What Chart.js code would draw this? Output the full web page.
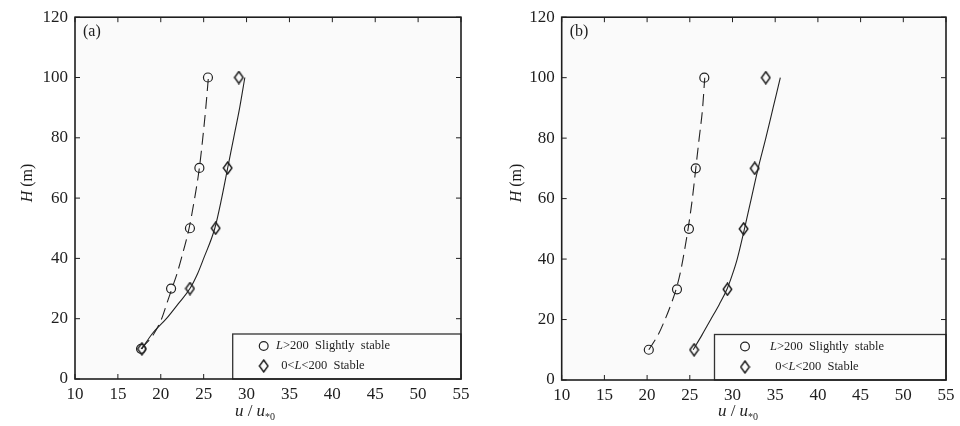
<!DOCTYPE html>
<html><head><meta charset="utf-8">
<script src="https://cdn.jsdelivr.net/npm/chart.js@4"></script>
<style>
html,body{margin:0;padding:0;background:#fff;width:960px;height:426px;overflow:hidden}
canvas{position:absolute;top:0}
</style></head>
<body>
<canvas id="ca" width="480" height="426" style="left:0"></canvas>
<canvas id="cb" width="480" height="426" style="left:480px"></canvas>
<script>
// ---- data ----
const heights = [10, 30, 50, 70, 100];
const aSlightU = [17.7, 21.2, 23.4, 24.5, 25.5];
const aStableU = [17.8, 23.4, 26.4, 27.8, 29.1];
const bSlightU = [20.2, 23.5, 24.9, 25.7, 26.7];
const bStableU = [25.5, 29.4, 31.3, 32.6, 33.9];

const fitHeights = [10, 15, 20, 25, 30, 35, 40, 50, 60, 70, 80, 90, 100];
const aSlightFit = [17.7, 19.2, 20.1, 20.7, 21.3, 21.9, 22.4, 23.3, 23.95, 24.5, 24.9, 25.25, 25.55];
const aStableFit = [17.8, 19.0, 20.65, 22.05, 23.4, 24.3, 25.0, 26.3, 27.1, 27.8, 28.5, 29.2, 29.8];
const bSlightFit = [20.2, 21.3, 22.1, 22.8, 23.4, 23.85, 24.2, 24.8, 25.3, 25.7, 26.1, 26.5, 26.75];
const bStableFit = [25.4, 26.45, 27.45, 28.45, 29.35, 30.0, 30.55, 31.4, 32.2, 33.0, 33.9, 34.75, 35.6];

const xTicks = [10, 15, 20, 25, 30, 35, 40, 45, 50, 55];
const yTicks = [0, 20, 40, 60, 80, 100, 120];
const panelLabels = ['(a)', '(b)'];
const legendLabels = [
  [{t:'L', i:true}, {t:'>200  Slightly  stable'}],
  [{t:' 0<'}, {t:'L', i:true}, {t:'<200  Stable'}]
];
const yTitle = [{t:'H', i:true}, {t:' (m)'}];

// ---- styling helpers ----
const SERIF = '"Liberation Serif","DejaVu Serif",serif';
const INK = '#1e1e1e';

function makeDiamond(){
  const c = document.createElement('canvas');
  c.width = 11; c.height = 14;
  const g = c.getContext('2d');
  g.strokeStyle = '#111'; g.lineWidth = 1.35;
  g.beginPath();
  g.moveTo(5.5, 1); g.lineTo(9.8, 7); g.lineTo(5.5, 13); g.lineTo(1.2, 7); g.closePath();
  g.stroke();
  return c;
}
const diamond = makeDiamond();

function pts(xs, ys){ return xs.map((v, k) => ({x: v, y: ys[k]})); }

function drawRich(ctx, parts, x, y, size){
  let cx = x;
  parts.forEach(p => {
    ctx.font = (p.i ? 'italic ' : '') + size + 'px ' + SERIF;
    ctx.fillText(p.t, cx, y);
    cx += ctx.measureText(p.t).width;
  });
  return cx - x;
}
function richWidth(ctx, parts, size){
  let w = 0;
  parts.forEach(p => { ctx.font = (p.i ? 'italic ' : '') + size + 'px ' + SERIF; w += ctx.measureText(p.t).width; });
  return w;
}

const framePlugin = {
  id: 'frame',
  beforeDraw(chart, args, o){
    const {ctx, chartArea: a} = chart;
    ctx.save();
    ctx.fillStyle = '#fafafa';
    ctx.fillRect(a.left, a.top, a.right - a.left, a.bottom - a.top);
    ctx.restore();
  },
  afterDraw(chart, args, o){
    const {ctx, chartArea: a, scales: {x, y}} = chart;
    ctx.save();
    ctx.strokeStyle = INK; ctx.lineWidth = 1;
    const ln = (x1, y1, x2, y2) => { ctx.beginPath(); ctx.moveTo(x1, y1); ctx.lineTo(x2, y2); ctx.stroke(); };
    xTicks.forEach(v => { const p = x.getPixelForValue(v); ln(p, a.bottom, p, a.bottom - 5); ln(p, a.top, p, a.top + 5); });
    yTicks.forEach(v => { const p = y.getPixelForValue(v); ln(a.left, p, a.left + 5, p); ln(a.right, p, a.right - 5, p); });

    // legend box
    ctx.fillStyle = '#fcfcfc';
    ctx.fillRect(o.legLeft, o.legTop, a.right - o.legLeft, a.bottom - o.legTop);
    ctx.strokeStyle = '#333'; ctx.lineWidth = 1.3;
    ctx.strokeRect(o.legLeft, o.legTop, a.right - o.legLeft, a.bottom - o.legTop);
    // legend markers
    ctx.strokeStyle = '#222'; ctx.lineWidth = 1.2;
    ctx.beginPath(); ctx.arc(o.legMarkX, o.legRow1, 4.4, 0, Math.PI * 2); ctx.stroke();
    ctx.drawImage(diamond, o.legMarkX - diamond.width / 2, o.legRow2 - diamond.height / 2);
    ctx.fillStyle = INK; ctx.textBaseline = 'middle'; ctx.textAlign = 'left';
    drawRich(ctx, legendLabels[0], o.legText1, o.legRow1, 12.5);
    drawRich(ctx, legendLabels[1], o.legText2, o.legRow2, 12.5);

    // frame
    ctx.strokeStyle = INK; ctx.lineWidth = 1.6;
    ctx.strokeRect(a.left, a.top, a.right - a.left, a.bottom - a.top);

    // panel label
    ctx.fillStyle = INK; ctx.textBaseline = 'middle'; ctx.textAlign = 'left';
    ctx.font = '16px ' + SERIF;
    ctx.fillText(o.label, a.left + 8, a.top + 15);

    // y title
    ctx.save();
    ctx.translate(o.yTitleX, o.yTitleY);
    ctx.rotate(-Math.PI / 2);
    const yw = richWidth(ctx, yTitle, 16);
    drawRich(ctx, yTitle, -yw / 2, 0, 16);
    ctx.restore();

    // x title: u / u_{*0}
    const s = 17;
    ctx.font = 'italic ' + s + 'px ' + SERIF; const wu = ctx.measureText('u').width;
    ctx.font = s + 'px ' + SERIF; const ws = ctx.measureText(' / ').width;
    ctx.font = '10px ' + SERIF; const wsub = ctx.measureText('*0').width;
    const total = wu * 2 + ws + wsub;
    let cx = o.xTitleX - total / 2;
    const ty = o.xTitleY;
    ctx.font = 'italic ' + s + 'px ' + SERIF; ctx.fillText('u', cx, ty); cx += wu;
    ctx.font = s + 'px ' + SERIF; ctx.fillText(' / ', cx, ty); cx += ws;
    ctx.font = 'italic ' + s + 'px ' + SERIF; ctx.fillText('u', cx, ty); cx += wu;
    ctx.font = '10px ' + SERIF; ctx.fillText('*0', cx, ty + 5);
    ctx.restore();
  }
};

function makeChart(id, label, slight, stable, slightFit, stableFit, geo){
  return new Chart(document.getElementById(id), {
    type: 'scatter',
    data: {
      datasets: [
        {data: pts(slightFit, fitHeights), showLine: true, pointRadius: 0, borderColor: '#222', borderWidth: 1.1,
         borderDash: [12, 6], cubicInterpolationMode: 'monotone', fill: false},
        {data: pts(stableFit, fitHeights), showLine: true, pointRadius: 0, borderColor: '#222', borderWidth: 1.1,
         cubicInterpolationMode: 'monotone', fill: false},
        {data: pts(slight, heights), showLine: false, pointStyle: 'circle', pointRadius: 4.5,
         pointBorderColor: '#222', pointBackgroundColor: 'rgba(0,0,0,0)', pointBorderWidth: 1.2},
        {data: pts(stable, heights), showLine: false, pointStyle: diamond, pointRadius: 5,
         pointBorderColor: '#222', pointBackgroundColor: 'rgba(0,0,0,0)'}
      ]
    },
    options: {
      responsive: false, animation: false, devicePixelRatio: 1,
      layout: {padding: {top: geo.top, right: geo.right, left: 0, bottom: 0}},
      plugins: {legend: {display: false}, tooltip: {enabled: false},
        frame: Object.assign({label: label}, geo)},
      scales: {
        x: {type: 'linear', min: 10, max: 55,
            afterBuildTicks: s => { s.ticks = xTicks.map(v => ({value: v})); },
            afterFit: s => { s.height = geo.xHeight; },
            grid: {display: false, drawTicks: false}, border: {display: false},
            ticks: {padding: 5, color: INK, font: {family: SERIF, size: 17}, maxRotation: 0, autoSkip: false}},
        y: {type: 'linear', min: 0, max: 120,
            afterBuildTicks: s => { s.ticks = yTicks.map(v => ({value: v})); },
            afterFit: s => { s.width = geo.yWidth; },
            grid: {display: false, drawTicks: false}, border: {display: false},
            ticks: {padding: 7, color: INK, font: {family: SERIF, size: 17}, autoSkip: false}}
      }
    },
    plugins: [framePlugin]
  });
}

makeChart('ca', panelLabels[0], aSlightU, aStableU, aSlightFit, aStableFit, {
  top: 9.5, right: 19, yWidth: 75, xHeight: 47,
  legLeft: 232.7, legTop: 334, legMarkX: 263.7, legRow1: 346, legRow2: 366, legText1: 276, legText2: 278,
  yTitleX: 28, yTitleY: 183, xTitleX: 255, xTitleY: 412
});
makeChart('cb', panelLabels[1], bSlightU, bStableU, bSlightFit, bStableFit, {
  top: 9.5, right: 14, yWidth: 81.7, xHeight: 46,
  legLeft: 234.5, legTop: 334.5, legMarkX: 265, legRow1: 346.5, legRow2: 367, legText1: 290, legText2: 292,
  yTitleX: 37, yTitleY: 183, xTitleX: 258, xTitleY: 412
});
</script>
</body></html>
